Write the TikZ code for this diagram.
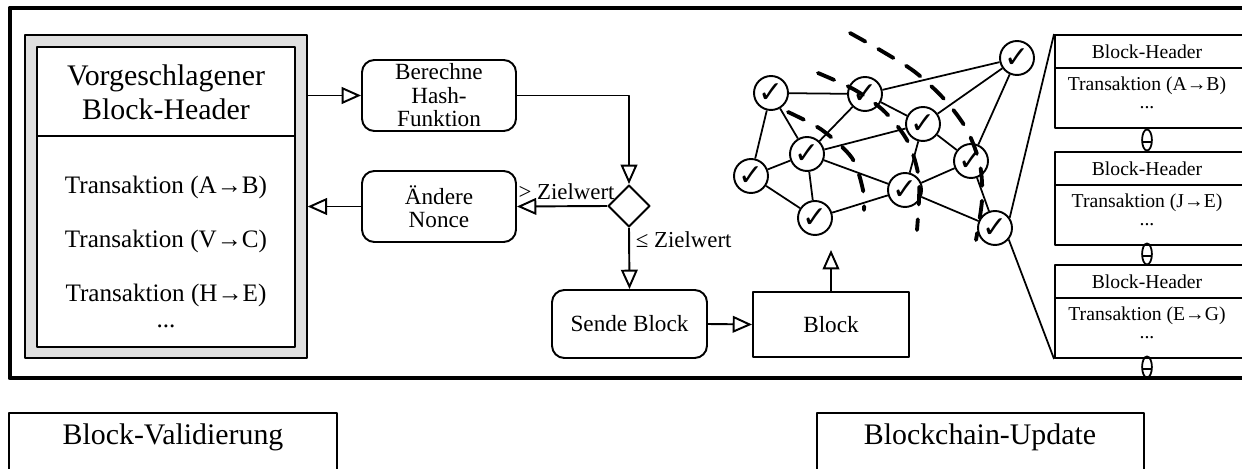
\documentclass[tikz,border=0pt]{standalone}
\usepackage{fontspec}
\setmainfont{Liberation Serif}
\newfontfamily\tickfont{DejaVu Sans}
\usetikzlibrary{arrows.meta,shapes.geometric}

\tikzset{
	flow/.style={draw, rounded corners=7pt, align=center, inner sep=0pt, font=\fontsize{13.2}{13.4}\selectfont},
	plain/.style={draw, align=center, inner sep=0pt},
	peer/.style={draw, circle, fill=white, minimum size=0.68cm, inner sep=0pt, font=\tickfont\fontsize{17}{17}\selectfont},
	chaintxt/.style={font=\fontsize{11.2}{12}\selectfont},
	txn/.style={font=\fontsize{14.3}{15}\selectfont},
	wave/.style={line width=2.2pt, dash pattern=on 10pt off 8.5pt, line cap=round}
}

\begin{document}
\begin{tikzpicture}[x=0.02cm, y=-0.02cm, line width=1.1pt, line join=round, >={Triangle[open,length=11pt,width=9.5pt]}]
	\clip (0,0) rectangle (1242,469);
	% outer frame, open to the right
	\draw[line width=2.8pt, line cap=butt] (1260,8) -- (10,8) -- (10,378) -- (1260,378);
	% proposed block
	\node[plain, fill=gray!25, line width=0.8pt, minimum width=5.64cm, minimum height=6.46cm] (prop) at (166,196.5) {};
	\node[plain, fill=white, minimum width=5.16cm, minimum height=6cm] (hdr) at (166,197) {};
	\draw (37,136) -- (295,136);
	\node[align=center, font=\fontsize{17}{19.3}\selectfont] (hdrtxt) at (166,92) {Vorgeschlagener\\Block-Header};
	\node[txn] (t1) at (166,187) {Transaktion (A→B)};
	\node[txn] (t2) at (166,241) {Transaktion (V→C)};
	\node[txn] (t3) at (166,295) {Transaktion (H→E)};
	\node[txn] (t4) at (166,326) {...};
	% mining loop
	\node[flow, minimum width=3.08cm, minimum height=1.42cm] (hash) at (439,95.5) {Berechne\\Hash-\\Funktion};
	\node[flow, minimum width=3.08cm, minimum height=1.42cm] (nonce) at (439,206.5) {Ändere\\Nonce};
	\node[draw, diamond, minimum width=0.84cm, minimum height=0.84cm, inner sep=0pt] (cmp) at (629,206) {};
	\node[flow, minimum width=3.1cm, minimum height=1.36cm] (send) at (629.5,324) {Sende Block};
	\node[plain, minimum width=3.12cm, minimum height=1.3cm, font=\fontsize{13.2}{13.4}\selectfont] (blk) at (831,324.5) {Block};
	\coordinate (up) at (831,250);
	\draw[->] (prop.east |- hash.west) -- (hash.west);
	\draw[->] (hash.east) -| (cmp.north);
	\draw[->] (cmp.west) -- node[above, pos=0.45, font=\fontsize{13}{13}\selectfont] {> Zielwert} (nonce.east);
	\draw[->] (nonce.west) -- (prop.east |- nonce.west);
	\draw[->] (cmp.south) -- node[right, pos=0.2, font=\fontsize{13}{13}\selectfont] {≤ Zielwert} (send.north);
	\draw[->] (send.east) -- (blk.west);
	\draw[->] (blk.north) -- (up);
	% network of peers
	\foreach \n/\x/\y in {1/771/93, 2/865/94, 3/1017/58, 4/923/124, 5/807/154, 6/751/176, 7/971/161, 8/905/190, 9/815/218, 10/995/228}
	\node[peer] (n\n) at (\x,\y) {✓};
	\foreach \a/\b in {1/2, 1/6, 1/5, 2/5, 2/4, 2/3, 3/4, 3/7, 4/5, 4/7, 4/8, 5/6, 5/9, 5/8, 6/9, 9/8, 8/7, 8/10, 7/10}
	\draw[line width=1pt] (n\a) -- (n\b);
	% propagation fronts
	\draw[wave] plot[smooth] coordinates {(850,33) (880,50) (915,72) (945,100) (967,130) (980,165) (982,200) (976,240)};
	\draw[wave] plot[smooth] coordinates {(818,73) (855,90) (885,112) (908,142) (919,180) (917,230)};
	\draw[wave] plot[smooth] coordinates {(788,112) (822,130) (852,158) (863,190) (864,210)};
	% blockchain
	\foreach \i/\top/\t in {1/35/A→B, 2/152/J→E, 3/265/E→G} {
		\node[plain, minimum width=4.1cm, minimum height=1.86cm] (bc\i) at (1157.5,\top+46.5) {};
		\draw (1055,\top+33) -- (1260,\top+33);
		\node[chaintxt] (bh\i) at (1147,\top+17) {Block-Header};
		\node[chaintxt] (bt\i) at (1147,\top+51) {Transaktion (\t)};
		\node[chaintxt] (bd\i) at (1147,\top+73) {...};
	}
	\foreach \y in {140,254,367} {
		\draw[line width=1pt] (1147,\y) ellipse [x radius=2.8pt, y radius=6pt];
		\draw[line width=1pt] (1142,\y+2) -- (1152,\y+2);
	}
	\draw[line width=1pt] (bc1.north west) -- (n10.35);
	\draw[line width=1pt] (bc3.south west) -- (n10.-40);
	% phase labels
	\node[plain, minimum width=6.56cm, minimum height=2cm] (valbox) at (173,463) {};
	\node[font=\fontsize{17}{19}\selectfont] (val) at (173,437) {Block-Validierung};
	\node[plain, minimum width=6.54cm, minimum height=2cm] (updbox) at (980.5,463) {};
	\node[font=\fontsize{17}{19}\selectfont] (upd) at (980,437) {Blockchain-Update};
\end{tikzpicture}
\end{document}
